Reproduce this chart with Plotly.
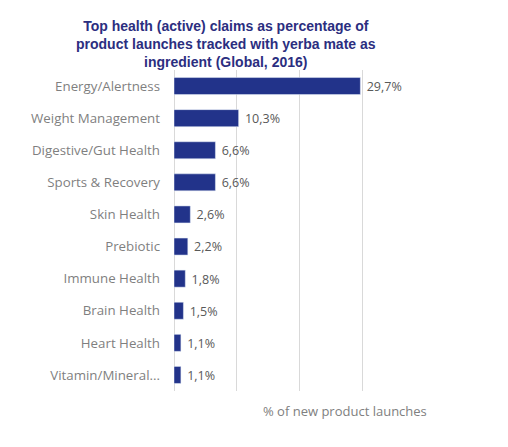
import plotly.graph_objects as go

# Data
claims = ['Energy/Alertness', 'Weight Management', 'Digestive/Gut Health',
          'Sports & Recovery', 'Skin Health', 'Prebiotic', 'Immune Health',
          'Brain Health', 'Heart Health', 'Vitamin/Mineral...']
share = [29.7, 10.3, 6.6, 6.6, 2.6, 2.2, 1.8, 1.5, 1.1, 1.1]

labels = ["\u00a0" + f"{v:.1f}%".replace('.', ',') for v in share]

# page body has an 8px margin, so figure coords = screen coords - 8
PLOT_L, PLOT_R, PLOT_T, PLOT_B = 166, 417, 62, 383
W, H = 500, 439

fig = go.Figure()
fig.add_trace(go.Bar(
    x=share, y=claims, orientation='h',
    marker=dict(color='#22338a'),
    width=0.53,
    text=labels, textposition='outside',
    textfont=dict(family='Open Sans', size=14, color='#595959'),
    cliponaxis=False,
))

fig.update_layout(
    width=W, height=H,
    margin=dict(l=PLOT_L, r=W - PLOT_R, t=PLOT_T, b=H - PLOT_B),
    plot_bgcolor='white', paper_bgcolor='white',
    showlegend=False,
    xaxis=dict(
        range=[0, 40], dtick=10, showticklabels=False,
        showgrid=True, gridcolor='#d9d9d9', gridwidth=1,
        zeroline=True, zerolinecolor='#d9d9d9', zerolinewidth=1,
        automargin=False,
    ),
    yaxis=dict(
        autorange='reversed', ticks='', ticklabelstandoff=13,
        tickfont=dict(family='Open Sans', size=13.3, color='#7f7f7f'),
        automargin=False,
    ),
    annotations=[
        dict(
            text='Top health (active) claims as percentage of<br>'
                 'product launches tracked with yerba mate as<br>'
                 'ingredient (Global, 2016)',
            xref='paper', yref='paper',
            x=(218 - PLOT_L) / (PLOT_R - PLOT_L), y=1 - 2 / (PLOT_B - PLOT_T),
            xanchor='center', yanchor='bottom', showarrow=False,
            font=dict(family='Liberation Sans', size=14, color='#2b2e80',
                      weight='bold'),
        ),
        dict(
            text='% of new product launches', xref='paper', yref='paper',
            x=(337 - PLOT_L) / (PLOT_R - PLOT_L), y=-20 / (PLOT_B - PLOT_T),
            xanchor='center', yanchor='middle', showarrow=False,
            font=dict(family='Open Sans', size=13, color='#808080'),
        ),
    ],
)

fig.write_html("out.html")
